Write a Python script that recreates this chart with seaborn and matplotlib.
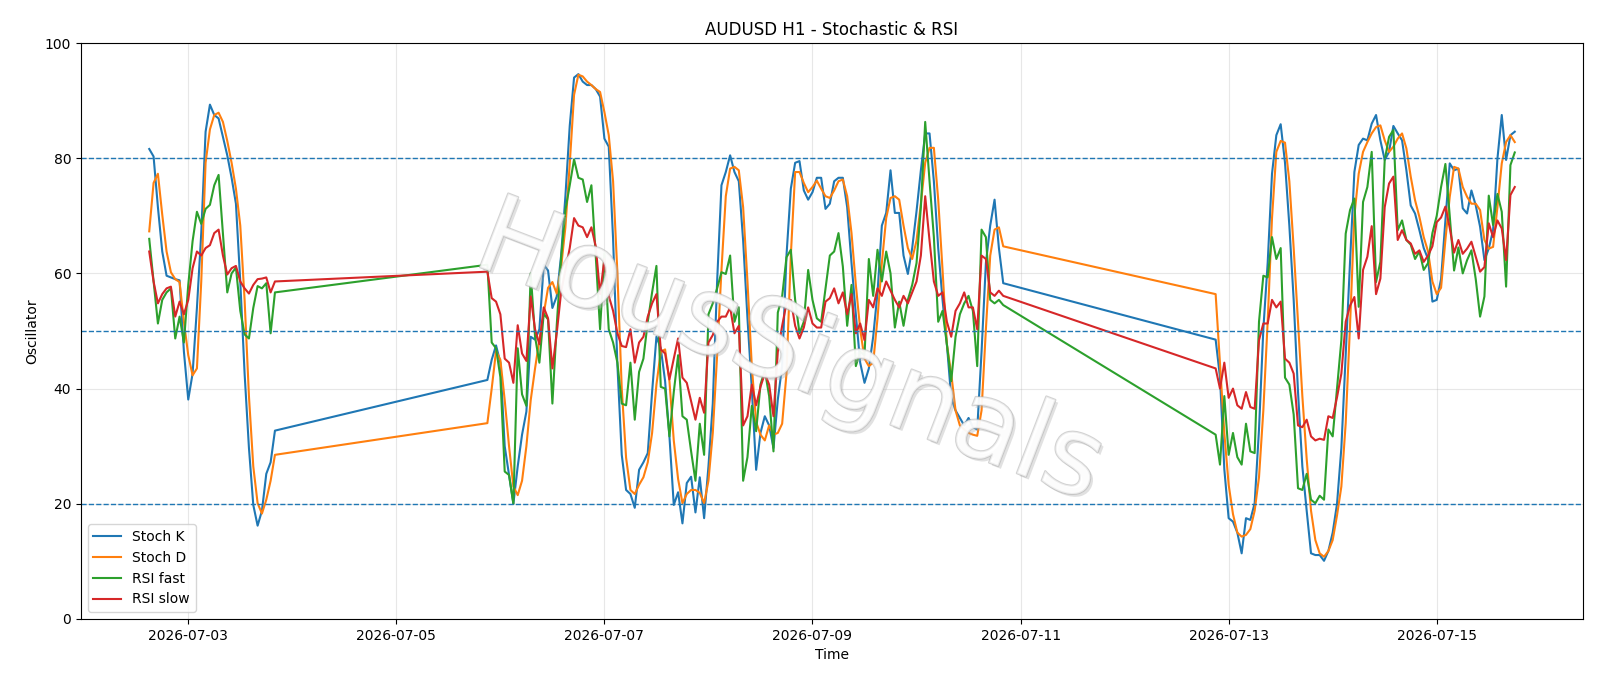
import pandas as pd
import matplotlib
matplotlib.use("Agg")
import matplotlib.pyplot as plt
import matplotlib.dates as mdates
import matplotlib.patheffects as pe
import seaborn as sns

# hourly bars, three trading blocks (weekends skipped)
seg_starts = ["2026-07-02 15:00", "2026-07-05 21:00", "2026-07-12 21:00"]
seg_lengths = [30, 120, 70]

stoch_k = [
    # 07-02 15:00 -> 07-03 20:00
    81.6, 80.3, 71.5, 63.8, 59.6, 59.3, 59.0, 58.8, 46.4, 38.1,
    42.6, 54.0, 67.0, 84.6, 89.3, 87.5, 86.9, 83.7, 80.5, 76.6,
    72.1, 58.6, 42.6, 29.7, 19.8, 16.2, 18.8, 25.2, 27.2, 32.7,
    # 07-05 21:00 -> 07-10 20:00
    41.5, 45.0, 47.5, 44.5, 30.0, 25.0, 20.0, 26.5, 32.0, 36.0,
    49.0, 48.5, 50.3, 61.5, 60.5, 54.0, 56.0, 63.0, 73.4, 85.6,
    94.0, 94.6, 93.3, 92.7, 92.7, 92.0, 90.7, 83.4, 82.0, 66.0,
    44.0, 28.5, 22.4, 21.7, 19.3, 25.9, 27.2, 28.8, 39.4, 49.0,
    47.0, 41.3, 31.7, 19.8, 22.0, 16.6, 23.6, 24.7, 18.5, 24.6,
    17.5, 26.5, 37.4, 58.6, 75.3, 77.6, 80.5, 77.6, 76.0, 65.7,
    52.2, 40.0, 25.9, 32.3, 35.2, 33.6, 29.7, 38.1, 43.9, 63.1,
    74.7, 79.2, 79.5, 74.4, 72.8, 74.1, 76.6, 76.6, 71.2, 72.1,
    76.0, 76.6, 76.6, 71.5, 61.8, 52.9, 44.5, 41.0, 43.5, 49.0,
    56.7, 68.3, 70.5, 77.9, 70.5, 70.5, 63.1, 59.9, 64.4, 70.8,
    77.9, 84.3, 84.3, 76.0, 64.4, 55.4, 47.7, 38.4, 36.2, 34.9,
    33.6, 34.9, 33.3, 32.9, 46.4, 61.8, 68.3, 72.8, 64.4, 58.3,
    # 07-12 21:00 -> 07-15 18:00
    48.5, 42.0, 26.0, 17.5, 16.9, 15.0, 11.4, 17.5, 17.2, 20.1,
    32.9, 50.3, 61.8, 77.3, 84.0, 85.9, 79.2, 68.3, 55.4, 39.4,
    26.5, 18.8, 11.4, 11.1, 11.1, 10.1, 11.8, 15.0, 20.0, 29.7,
    46.0, 62.0, 77.6, 82.3, 83.4, 83.1, 86.0, 87.5, 83.1, 79.7,
    81.1, 85.6, 84.3, 83.1, 77.9, 71.8, 70.4, 67.5, 64.4, 62.5,
    55.1, 55.4, 59.0, 69.2, 79.1, 77.9, 78.2, 71.3, 70.4, 74.4,
    71.8, 68.1, 62.3, 64.3, 67.5, 79.9, 87.5, 79.7, 84.0, 84.6,
]

stoch_d = [
    67.3, 75.7, 77.3, 70.2, 63.8, 60.2, 59.0, 58.5, 51.6, 45.8,
    42.3, 43.5, 58.6, 79.2, 85.0, 87.5, 87.9, 86.3, 83.0, 79.2,
    74.7, 68.3, 55.4, 38.7, 26.5, 20.1, 18.3, 20.7, 24.0, 28.5,
    34.0, 40.0, 46.5, 45.0, 38.0, 30.0, 23.0, 21.5, 24.0, 30.0,
    38.0, 43.5, 48.5, 53.0, 57.5, 58.5, 56.5, 61.0, 68.0, 79.0,
    91.0, 94.5, 94.2, 93.3, 92.7, 92.0, 91.5, 88.0, 84.0, 76.0,
    60.0, 40.0, 28.0, 22.4, 21.7, 23.3, 24.6, 27.2, 32.3, 40.7,
    46.4, 46.8, 41.3, 31.0, 24.3, 20.1, 21.7, 22.4, 22.4, 21.9,
    20.1, 24.0, 32.3, 45.8, 60.6, 73.4, 78.2, 78.5, 77.9, 71.5,
    58.6, 43.9, 34.2, 32.0, 31.0, 33.6, 32.0, 32.3, 33.9, 42.6,
    63.1, 77.6, 77.6, 75.7, 74.1, 75.0, 76.1, 74.7, 73.4, 73.1,
    74.4, 76.0, 76.3, 73.4, 67.0, 58.0, 50.3, 45.2, 43.9, 44.5,
    52.2, 61.8, 69.6, 73.1, 73.4, 72.8, 68.3, 64.4, 62.5, 65.7,
    72.1, 79.2, 81.8, 81.8, 72.8, 60.6, 47.7, 42.6, 36.2, 33.6,
    32.9, 32.3, 32.0, 31.8, 36.2, 50.3, 63.1, 67.6, 68.0, 64.7,
    56.4, 44.5, 32.3, 23.3, 18.2, 15.0, 14.3, 14.6, 15.6, 18.8,
    24.6, 36.2, 51.6, 69.6, 81.1, 83.0, 82.7, 76.0, 64.4, 51.6,
    38.7, 27.8, 18.8, 13.7, 11.4, 10.8, 11.8, 13.7, 18.0, 23.0,
    34.0, 51.0, 70.0, 77.3, 81.1, 82.8, 84.3, 85.4, 85.7, 83.1,
    81.1, 82.0, 83.4, 84.3, 81.7, 76.8, 72.7, 69.8, 66.3, 63.8,
    58.6, 56.4, 57.5, 65.8, 73.3, 78.5, 78.2, 75.0, 73.3, 72.1,
    72.1, 71.0, 65.8, 64.3, 64.6, 71.5, 79.1, 82.8, 84.0, 82.8,
]

rsi_fast = [
    66.0, 58.6, 51.3, 55.4, 56.7, 57.4, 48.7, 52.5, 48.0, 58.0,
    65.6, 70.7, 68.6, 71.2, 71.9, 75.3, 77.1, 67.0, 56.7, 60.0,
    61.0, 53.5, 49.4, 48.7, 54.0, 57.8, 57.4, 58.3, 49.6, 56.7,
    61.5, 48.0, 47.0, 42.0, 25.6, 25.0, 20.0, 47.0, 39.0, 37.0,
    60.0, 49.0, 44.5, 53.0, 52.0, 37.4, 51.0, 62.5, 71.0, 75.3,
    79.8, 76.6, 76.3, 72.4, 75.3, 63.0, 50.3, 63.5, 50.3, 48.0,
    44.5, 37.4, 37.1, 44.5, 34.6, 42.9, 45.2, 51.6, 56.7, 61.3,
    40.3, 40.0, 31.7, 39.4, 45.8, 35.2, 34.6, 29.1, 24.0, 33.9,
    28.5, 52.9, 54.8, 57.4, 60.2, 59.9, 63.1, 51.6, 54.1, 24.0,
    28.1, 37.0, 32.6, 40.7, 43.2, 38.7, 29.1, 53.2, 56.0, 62.8,
    64.1, 55.4, 49.6, 51.6, 60.6, 55.4, 52.2, 51.6, 57.4, 63.1,
    63.8, 67.0, 61.2, 50.9, 58.0, 43.9, 46.4, 45.8, 62.5, 56.1,
    64.1, 58.6, 63.8, 60.0, 50.6, 55.1, 50.9, 55.4, 58.0, 61.8,
    71.5, 86.3, 76.0, 66.3, 51.6, 53.5, 47.7, 41.3, 49.0, 52.9,
    54.8, 56.1, 53.5, 43.9, 67.6, 66.3, 55.4, 54.8, 55.4, 54.5,
    32.0, 26.8, 38.7, 28.5, 32.3, 28.1, 26.8, 33.9, 29.1, 28.8,
    51.6, 59.6, 59.3, 66.3, 62.5, 64.4, 41.9, 40.7, 35.5, 22.7,
    22.4, 25.2, 20.7, 20.1, 21.4, 20.7, 32.9, 31.7, 40.0, 48.4,
    66.9, 71.0, 73.0, 54.2, 72.4, 75.0, 81.1, 58.5, 62.0, 79.7,
    83.7, 84.9, 67.5, 69.2, 65.8, 65.0, 62.5, 63.8, 60.6, 61.8,
    67.0, 70.0, 75.0, 79.0, 70.0, 60.5, 64.5, 60.0, 62.3, 64.0,
    59.0, 52.5, 56.0, 73.5, 68.4, 73.8, 70.7, 57.7, 78.8, 81.0,
]

rsi_slow = [
    63.8, 58.6, 54.8, 56.4, 57.4, 57.7, 52.5, 55.1, 52.9, 55.4,
    60.9, 63.8, 63.1, 64.4, 64.9, 67.0, 67.6, 63.1, 59.8, 60.9,
    61.3, 58.6, 57.4, 56.5, 58.0, 59.0, 59.1, 59.3, 56.7, 58.6,
    60.3, 55.7, 55.1, 52.9, 45.2, 44.5, 41.0, 51.0, 46.1, 44.8,
    56.0, 50.3, 47.7, 54.1, 52.2, 43.5, 49.6, 56.7, 60.6, 64.4,
    69.6, 68.3, 68.0, 66.3, 68.0, 64.7, 56.4, 62.5, 56.1, 53.5,
    49.6, 47.4, 47.2, 50.3, 44.5, 48.0, 49.0, 52.5, 54.8, 56.4,
    46.8, 46.1, 41.6, 45.2, 48.7, 41.9, 41.0, 37.8, 34.6, 38.4,
    35.8, 48.0, 49.3, 51.6, 52.5, 52.5, 54.1, 49.6, 50.9, 33.6,
    35.2, 40.7, 37.1, 40.3, 42.6, 40.7, 35.2, 46.4, 50.9, 54.8,
    55.4, 50.9, 48.7, 50.6, 54.1, 51.3, 50.6, 50.6, 55.1, 55.7,
    57.4, 54.8, 56.7, 52.9, 56.4, 49.6, 51.3, 48.4, 55.4, 54.1,
    57.4, 56.1, 58.6, 57.0, 55.4, 54.1, 56.1, 54.8, 56.7, 58.6,
    63.1, 73.4, 65.7, 58.6, 56.1, 56.7, 51.6, 49.0, 53.5, 54.8,
    56.7, 54.1, 54.1, 50.3, 63.1, 62.5, 56.7, 56.1, 57.0, 56.1,
    43.5, 40.0, 44.5, 38.4, 40.0, 37.1, 36.5, 39.4, 36.8, 36.5,
    48.4, 51.3, 51.3, 55.4, 54.1, 55.1, 45.2, 44.5, 42.6, 33.6,
    33.3, 34.6, 31.7, 31.0, 31.3, 31.1, 35.2, 34.9, 38.5, 42.6,
    51.6, 54.4, 55.9, 48.7, 60.6, 62.9, 68.2, 56.4, 59.1, 71.5,
    75.6, 76.8, 65.8, 67.5, 65.8, 65.2, 63.4, 64.0, 62.0, 63.1,
    64.7, 68.9, 69.7, 71.6, 67.9, 63.6, 65.8, 63.4, 64.3, 65.5,
    62.9, 60.3, 61.1, 68.7, 66.3, 69.2, 67.8, 62.3, 73.6, 75.0,
]

series_names = ["Stoch K", "Stoch D", "RSI fast", "RSI slow"]
levels = [80, 50, 20]

times = pd.DatetimeIndex([])
for start, n in zip(seg_starts, seg_lengths):
    times = times.append(pd.date_range(start, periods=n, freq="h"))

wide = pd.DataFrame({"Stoch K": stoch_k, "Stoch D": stoch_d,
                     "RSI fast": rsi_fast, "RSI slow": rsi_slow}, index=times)
wide.index.name = "Time"
df = wide.reset_index().melt(id_vars="Time", var_name="series", value_name="Oscillator")

fig = plt.figure(figsize=(16, 6.86), dpi=100)
ax = fig.add_axes([0.0506, 0.0977, 0.9388, 0.8396])

sns.lineplot(data=df, x="Time", y="Oscillator", hue="series", hue_order=series_names,
             palette=["tab:blue", "tab:orange", "tab:green", "tab:red"],
             sort=False, estimator=None, linewidth=1.5, ax=ax)

for lv in levels:
    ax.axhline(lv, color="tab:blue", linestyle="--", linewidth=1)

ax.set_ylim(0, 100)
ax.grid(True, alpha=0.3)
ax.set_title("AUDUSD H1 - Stochastic & RSI", fontsize=12)
ax.set_xlabel("Time")
ax.set_ylabel("Oscillator")
ax.xaxis.set_major_locator(mdates.DayLocator(bymonthday=[3, 5, 7, 9, 11, 13, 15]))
ax.xaxis.set_major_formatter(mdates.DateFormatter("%Y-%m-%d"))
ax.legend(loc="lower left", title=None)

# watermark
ax.text(0.472, 0.46, "HousSignals", transform=ax.transAxes, fontsize=78,
        color="white", alpha=0.6, rotation=-21, ha="center", va="center",
        path_effects=[pe.withSimplePatchShadow(offset=(2, -2), shadow_rgbFace="#aaaaaa", alpha=0.35),
                      pe.withStroke(linewidth=1.5, foreground="#b5b5b5")], zorder=4)

fig.savefig("out.png", dpi=100)
